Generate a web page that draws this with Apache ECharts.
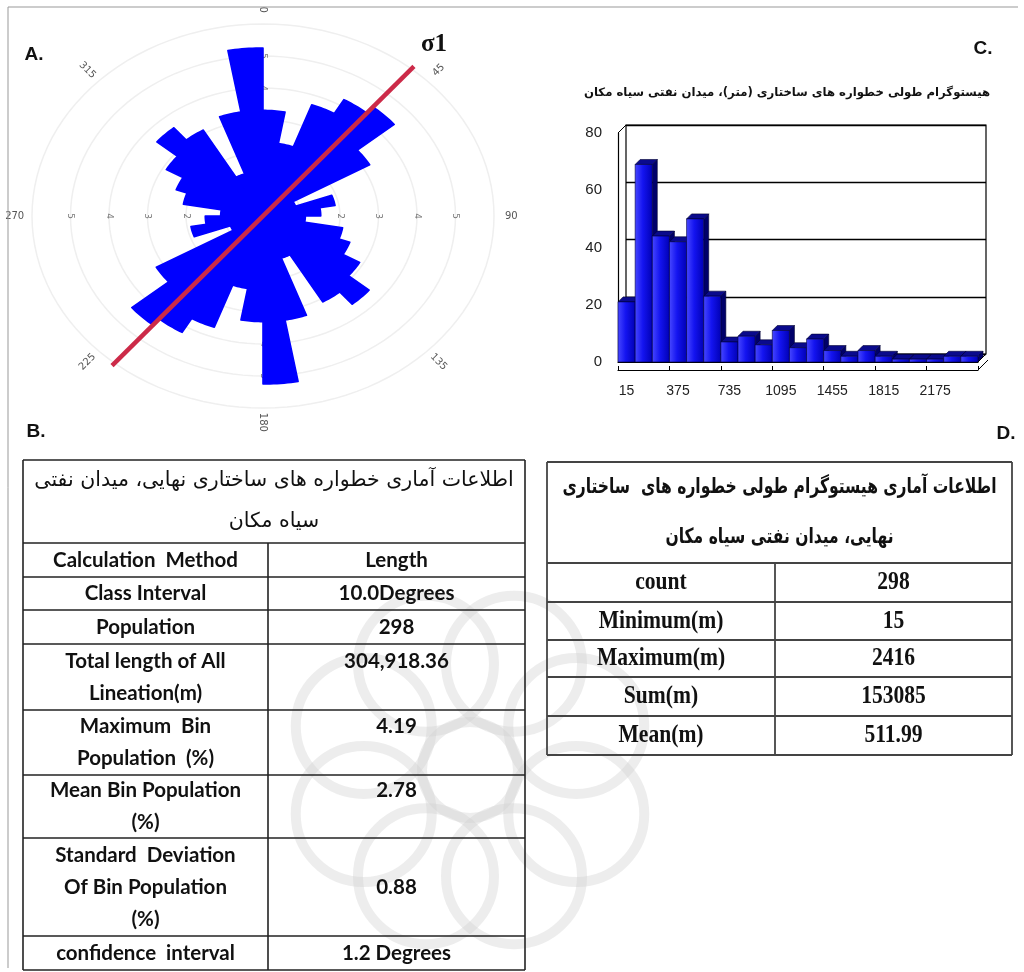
<!DOCTYPE html>
<html><head><meta charset="utf-8">
<script src="https://cdn.jsdelivr.net/npm/echarts@6/dist/echarts.min.js"></script>
<style>html,body{margin:0;padding:0;background:#fff}#c{width:1024px;height:972px}</style>
</head><body><div id="c"></div>
<script>
// ---------- A. rose diagram (10° bins, bidirectional) ----------
const roseBinStarts = [0,10,20,30,40,50,60,70,80,90,100,110,120,130,140,150,160,170];
const roseValues    = [3.3,2.3,3.7,4.2,4.45,3.2,0.9,1.9,1.5,1.1,2.1,2.4,2.9,3.6,3.1,1.4,3.3,5.25];
const roseRings = [1,2,3,4,5,6];
const roseRingLabels = [2,3,4,5];
const roseRingLabelDirs = [0,90,180,270];
const roseAngleLabels = [0,45,90,135,180,225,270,315];
const sigma1Angle = 40, sigma1Length = 6.1;

// ---------- C. length histogram ----------
const histCategories = ['15','135','255','375','495','615','735','855','975','1095','1215','1335','1455','1575','1695','1815','1935','2055','2175','2295','2415'];
const histValues = [21,69,44,42,50,23,7,9,6,11,5,8,4,2,4,2,1,1,1,2,2];
const histTitle = 'هیستوگرام طولی خطواره های ساختاری (متر)، میدان نفتی سیاه مکان';

// ---------- B. table ----------
const tableBTitle = ['اطلاعات آماری خطواره های ساختاری نهایی، میدان نفتی','سیاه مکان'];
const tableBLabels = ['Calculation  Method','Class Interval','Population','Total length of All\nLineation(m)','Maximum  Bin\nPopulation  (%)','Mean Bin Population\n(%)','Standard  Deviation\nOf Bin Population\n(%)','confidence  interval'];
const tableBValues = ['Length','10.0Degrees','298','304,918.36','4.19','2.78','0.88','1.2 Degrees'];

// ---------- D. table ----------
const tableDTitle = ['اطلاعات آماری هیستوگرام طولی خطواره های  ساختاری','نهایی، میدان نفتی سیاه مکان'];
const tableDLabels = ['count','Minimum(m)','Maximum(m)','Sum(m)','Mean(m)'];
const tableDValues = ['298','15','2416','153085','511.99'];

const D2R = Math.PI/180;
const chart = echarts.init(document.getElementById('c'), null, {renderer:'canvas', width:1024, height:972});

function polar(r, deg){ return [r*Math.sin(deg*D2R), r*Math.cos(deg*D2R)]; }

const roseData = [];
roseBinStarts.forEach((a,i)=>{ roseData.push([a, roseValues[i]]); roseData.push([a+180, roseValues[i]]); });
const ringLabelData = [];
roseRingLabelDirs.forEach(d=>roseRingLabels.forEach(r=>ringLabelData.push([r,d])));
const s1 = polar(sigma1Length, sigma1Angle);

function normRot(deg){ let r = 90 - deg; while (r >= 90) r -= 180; while (r < -90) r += 180; return r; }

const graphics = [];
function txt(x,y,text,font,opt){
  opt = opt||{};
  graphics.push({type:'text', x:x, y:y, z:opt.z||10, rotation:opt.rot||0, scaleX:opt.sx||1,
    style:{text:text, font:font, fill:opt.fill||'#111', align:opt.align||'center', textAlign:opt.align||'center',
      verticalAlign:'middle', textVerticalAlign:'middle'}});
}
function line(x1,y1,x2,y2,color,w){
  graphics.push({type:'line', z:9, shape:{x1:x1,y1:y1,x2:x2,y2:y2}, style:{stroke:color, lineWidth:w}});
}

// watermark (faint rosette)
(function(){
  const cx = 470, cy = 770;
  for (let k=0;k<8;k++){
    const a = (k*45+22.5)*D2R;
    graphics.push({type:'circle', z:1, shape:{cx:cx+115*Math.cos(a), cy:cy+115*Math.sin(a), r:68},
      style:{fill:'none', stroke:'#d0d0d0', lineWidth:10, opacity:0.38}});
  }
  graphics.push({type:'circle', z:1, shape:{cx:cx, cy:cy, r:48}, style:{fill:'none', stroke:'#d0d0d0', lineWidth:10, opacity:0.38}});
})();

// frame
line(8,7,1018,7,'#999',1);
line(8,7,8,968,'#999',1);

// panel letters
txt(34,55,'A.','bold 19px Arial');
txt(983,49,'C.','bold 19px Arial');
txt(36,432,'B.','bold 19px Arial');
txt(1006,434,'D.','bold 19px Arial');
txt(434,45,'σ1','bold 25px "Liberation Serif"');
txt(787,93,histTitle,'bold 11.7px "DejaVu Sans"');

// table B
(function(){
  const colX=[23,268,525], rowY=[460,543,577,610,644,710,775,838,936,970];
  const c='#222', w=1.6;
  rowY.forEach(y=>line(colX[0],y,colX[2],y,c,w));
  line(colX[0],rowY[0],colX[0],rowY[rowY.length-1],c,w);
  line(colX[2],rowY[0],colX[2],rowY[rowY.length-1],c,w);
  line(colX[1],rowY[1],colX[1],rowY[rowY.length-1],c,w);
  const hc=(rowY[0]+rowY[1])/2, hl=41;
  tableBTitle.forEach((t,k)=>txt((colX[0]+colX[2])/2, hc+(k-(tableBTitle.length-1)/2)*hl, t, '20.5px "DejaVu Sans"'));
  const lh=32;
  tableBLabels.forEach((lab,i)=>{
    const cy=(rowY[i+1]+rowY[i+2])/2, lines=lab.split('\n'), n=lines.length;
    lines.forEach((l,k)=>txt((colX[0]+colX[1])/2, cy+(k-(n-1)/2)*lh, l, 'bold 20.5px Lato'));
    const vk=Math.floor((n-1)/2);
    txt((colX[1]+colX[2])/2, cy+(vk-(n-1)/2)*lh, tableBValues[i], 'bold 20.5px Lato');
  });
})();

// table D
(function(){
  const colX=[547,775,1012], rowY=[462,563,602,640,677,716,755];
  const c='#444', w=1.8;
  rowY.forEach(y=>line(colX[0],y,colX[2],y,c,w));
  line(colX[0],rowY[0],colX[0],rowY[rowY.length-1],c,w);
  line(colX[2],rowY[0],colX[2],rowY[rowY.length-1],c,w);
  line(colX[1],rowY[1],colX[1],rowY[rowY.length-1],c,w);
  const hc=(rowY[0]+rowY[1])/2, hl=50;
  tableDTitle.forEach((t,k)=>txt((colX[0]+colX[2])/2, hc+(k-(tableDTitle.length-1)/2)*hl, t, 'bold 21px "DejaVu Sans"', {sx:0.74}));
  tableDLabels.forEach((lab,i)=>{
    const cy=(rowY[i+1]+rowY[i+2])/2;
    txt((colX[0]+colX[1])/2, cy, lab, 'bold 26px "Liberation Serif"', {sx:0.83});
    txt((colX[1]+colX[2])/2, cy, tableDValues[i], 'bold 26px "Liberation Serif"', {sx:0.83});
  });
})();

// histogram 3D box decorations
line(618,133,626,125,'#000',1);
line(978,370,988,360,'#000',1);
line(978,362,986,354,'#000',1);

const barGrad = new echarts.graphic.LinearGradient(0,0,1,0,[
  {offset:0,color:'#4848ff'},{offset:0.45,color:'#1414f0'},{offset:1,color:'#0000b4'}]);

function bar3d(params, api){
  const i = api.value(0), v = api.value(1);
  const p0 = api.coord([i,0]), p1 = api.coord([i,v]);
  const w = api.size([1,0])[0];
  const x0 = p0[0]-w/2, x1 = p0[0]+w/2, yb = p0[1], yt = p1[1], d = 5;
  return {type:'group', children:[
    {type:'polygon', shape:{points:[[x1,yb],[x1+d,yb-d],[x1+d,yt-d],[x1,yt]]}, style:{fill:'#00006a', stroke:'#000030', lineWidth:0.6}},
    {type:'polygon', shape:{points:[[x0,yt],[x0+d,yt-d],[x1+d,yt-d],[x1,yt]]}, style:{fill:'#0a0a8c', stroke:'#000030', lineWidth:0.6}},
    {type:'rect', shape:{x:x0,y:yt,width:x1-x0,height:yb-yt}, style:{fill:barGrad, stroke:'#000040', lineWidth:0.6}}
  ]};
}

const option = {
  backgroundColor:'#fff',
  animation:false,
  grid:[
    {left:12.75, top:8, width:500.5, height:416, show:false},
    {left:618, top:133, width:360, height:229, show:false},
    {left:626, top:125, width:360, height:229, show:true, borderColor:'#000', borderWidth:1.2, backgroundColor:'transparent'}
  ],
  xAxis:[
    {gridIndex:0, type:'value', min:-6.5, max:6.5, show:false},
    {gridIndex:1, type:'category', data:histCategories, axisLine:{lineStyle:{color:'#000',width:1.2}}, axisTick:{show:false}, axisLabel:{show:false}},
    {gridIndex:1, type:'category', data:histCategories, position:'bottom', offset:8,
      axisLine:{lineStyle:{color:'#000',width:1.2}}, axisTick:{show:true, interval:2, length:4, inside:true, lineStyle:{color:'#000'}},
      axisLabel:{interval:2, margin:14, color:'#222', fontSize:14, fontFamily:'Arial'}},
    {gridIndex:2, type:'value', min:0, max:1, show:false}
  ],
  yAxis:[
    {gridIndex:0, type:'value', min:-6.5, max:6.5, show:false},
    {gridIndex:1, type:'value', min:0, max:80, interval:20, axisLine:{show:true, lineStyle:{color:'#000',width:1.2}},
      axisTick:{show:false}, splitLine:{show:false}, axisLabel:{color:'#222', fontSize:15, fontFamily:'Arial', margin:16}},
    {gridIndex:2, type:'value', min:0, max:80, interval:20, axisLabel:{show:false}, axisTick:{show:false}, axisLine:{show:false},
      splitLine:{show:true, lineStyle:{color:'#000', width:1.3}}}
  ],
  graphic:{elements:graphics},
  series:[
    {type:'custom', name:'rings', xAxisIndex:0, yAxisIndex:0, z:1, silent:true, data:roseRings.map(r=>[r]),
      renderItem:function(params, api){
        const r = api.value(0), pts = [];
        for (let a=0;a<=360;a+=3) pts.push(api.coord(polar(r,a)));
        return {type:'polyline', shape:{points:pts}, style:{stroke:'#efefef', lineWidth:1.5, fill:null}};
      }},
    {type:'custom', name:'ringLabels', xAxisIndex:0, yAxisIndex:0, z:2, silent:true, data:ringLabelData,
      renderItem:function(params, api){
        const p = api.coord(polar(api.value(0), api.value(1)));
        return {type:'text', x:p[0], y:p[1], rotation:-Math.PI/2,
          style:{text:String(api.value(0)), font:'9px "DejaVu Sans"', fill:'#777', align:'center', verticalAlign:'middle', textAlign:'center', textVerticalAlign:'middle'}};
      }},
    {type:'custom', name:'rose', xAxisIndex:0, yAxisIndex:0, z:3, data:roseData,
      renderItem:function(params, api){
        const a0 = api.value(0), r = api.value(1);
        const pts = [api.coord([0,0])];
        for (let k=0;k<=10;k++) pts.push(api.coord(polar(r, a0+k)));
        return {type:'polygon', shape:{points:pts}, style:{fill:'#0000ff', stroke:'#0000ff', lineWidth:1.6, lineJoin:'round'}};
      }},
    {type:'line', name:'σ1', xAxisIndex:0, yAxisIndex:0, z:5, symbol:'none', silent:true,
      data:[[-s1[0],-s1[1]],[s1[0],s1[1]]], lineStyle:{color:'#cc2a48', width:4.5}},
    {type:'custom', name:'angleLabels', xAxisIndex:0, yAxisIndex:0, z:2, silent:true, data:roseAngleLabels.map(a=>[a]),
      renderItem:function(params, api){
        const a = api.value(0), p = api.coord(polar(6.45, a));
        return {type:'text', x:p[0], y:p[1], rotation:normRot(a)*D2R,
          style:{text:String(a), font:'10px "DejaVu Sans"', fill:'#555', align:'center', verticalAlign:'middle', textAlign:'center', textVerticalAlign:'middle'}};
      }},
    {type:'custom', name:'length', xAxisIndex:1, yAxisIndex:1, z:4, data:histValues.map((v,i)=>[i,v]), renderItem:bar3d}
  ]
};
chart.setOption(option);
</script></body></html>
